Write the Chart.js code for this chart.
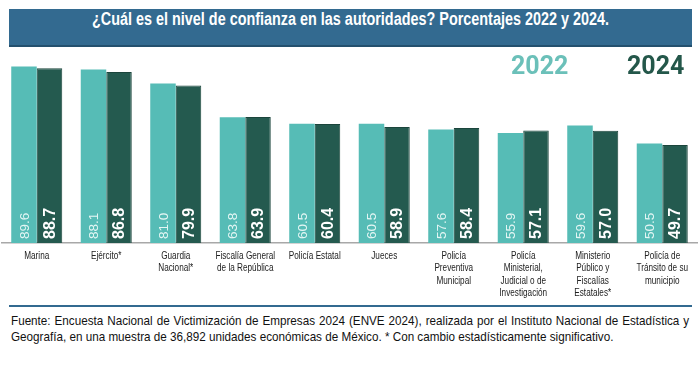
<!DOCTYPE html>
<html>
<head>
<meta charset="utf-8">
<script src="https://cdn.jsdelivr.net/npm/chart.js@4"></script>
<style>
  body { margin: 0; width: 700px; height: 366px; background: #fff; position: relative; overflow: hidden; }
  #title { position: absolute; left: 9px; top: 9px; width: 683px; height: 36px; background: #336a90;
           border-bottom: 2px solid #24506e; }
  #title span { position: absolute; left: 0; width: 100%; top: 0; line-height: 36px; text-align: center;
                color: #fff; font: bold 18px "Liberation Sans", Arial, sans-serif; transform: scaleX(0.8);
                white-space: nowrap; }
  #chartBox { position: absolute; left: 0; top: 0; width: 700px; height: 300px; }
  .yr { position: absolute; top: 51px; font: bold 25px Roboto, sans-serif; }
  #rule { position: absolute; left: 9px; top: 305px; width: 683px; height: 2px; background: #336a90; }
  #footer { position: absolute; left: 11px; top: 313px; width: 784px; transform: scaleX(0.865);
            transform-origin: 0 0; font: 13.5px "Liberation Sans", Arial, sans-serif; color: #111;
            line-height: 16px; white-space: nowrap; }
  #footer .l1 { text-align: justify; text-align-last: justify; white-space: normal; }
</style>
</head>
<body>
<div id="chartBox"><canvas id="confChart" width="700" height="300"></canvas></div>
<div id="title"><span>¿Cuál es el nivel de confianza en las autoridades? Porcentajes 2022 y 2024.</span></div>
<div class="yr" style="left:511px;color:#6bc0b9">2022</div>
<div class="yr" style="left:627px;color:#24574a">2024</div>
<div id="rule"></div>
<div id="footer">
  <div class="l1">Fuente: Encuesta Nacional de Victimización de Empresas 2024 (ENVE 2024), realizada por el Instituto Nacional de Estadística y</div>
  <div class="l2">Geografía, en una muestra de 36,892 unidades económicas de México. * Con cambio estadísticamente significativo.</div>
</div>
<script>
const labels = [
    'Marina',
    'Ejército*',
    ['Guardia', 'Nacional*'],
    ['Fiscalía General', 'de la República'],
    'Policía Estatal',
    'Jueces',
    ['Policía', 'Preventiva', 'Municipal'],
    ['Policía', 'Ministerial,', 'Judicial o de', 'Investigación'],
    ['Ministerio', 'Público y', 'Fiscalías', 'Estatales*'],
    ['Policía de', 'Tránsito de su', 'municipio']
];
const values2022 = [89.6, 88.1, 81.0, 63.8, 60.5, 60.5, 57.6, 55.9, 59.6, 50.5];
const values2024 = [88.7, 86.8, 79.9, 63.9, 60.4, 58.9, 58.4, 57.1, 57.0, 49.7];

// Value labels written upward from the bottom of each bar
const barLabels = {
    id: 'barLabels',
    afterDatasetsDraw(chart) {
        const c = chart.ctx;
        chart.data.datasets.forEach((ds, i) => {
            const meta = chart.getDatasetMeta(i);
            meta.data.forEach((bar, j) => {
                c.save();
                c.translate(bar.x, bar.base - 4);
                c.rotate(-Math.PI / 2);
                c.textAlign = 'left';
                c.textBaseline = 'middle';
                c.fillStyle = i === 0 ? '#e4f6f4' : '#ffffff';
                c.font = i === 0 ? '13.5px "Liberation Sans", Arial' : 'bold 16px "Liberation Sans", Arial';
                c.fillText(ds.data[j].toFixed(1), 0, 1);
                c.restore();
            });
        });
    }
};

// Category names under the axis, squeezed to look like a narrow font
const catLabels = {
    id: 'catLabels',
    afterDraw(chart) {
        const c = chart.ctx;
        const xs = chart.scales.x;
        const top = chart.chartArea.bottom + 13;
        c.save();
        c.font = '10.5px "Liberation Sans", Arial';
        c.fillStyle = '#222';
        c.textAlign = 'center';
        c.textBaseline = 'middle';
        chart.data.labels.forEach((lab, i) => {
            const lines = Array.isArray(lab) ? lab : [lab];
            const x = xs.getPixelForTick(i);
            lines.forEach((t, k) => {
                c.save();
                c.translate(x, top + k * 12.4);
                c.scale(0.78, 1);
                c.fillText(t, 0, 0);
                c.restore();
            });
        });
        c.restore();
    }
};

const ctx = document.getElementById('confChart').getContext('2d');
let confChart = new Chart(ctx, {
    type: 'bar',
    data: {
        labels: labels,
        datasets: [{
            label: '2022',
            data: values2022,
            backgroundColor: '#56bcb6',
            borderWidth: 0
        }, {
            label: '2024',
            data: values2024,
            backgroundColor: '#245a4f',
            borderColor: '#1b453c',
            borderWidth: 1
        }]
    },
    options: {
        responsive: false,
        animation: false,
        layout: { padding: { top: 46, left: 2, right: 3, bottom: 57 } },
        plugins: { legend: { display: false }, tooltip: { enabled: false } },
        datasets: { bar: { categoryPercentage: 0.734, barPercentage: 1 } },
        scales: {
            x: {
                grid: { display: false, drawTicks: false, tickLength: 0 },
                border: { display: true, color: '#a8a8a8', width: 1.5 },
                ticks: { display: false }
            },
            y: { display: false, min: 0, max: 100 }
        }
    },
    plugins: [barLabels, catLabels]
});
</script>
</body>
</html>
